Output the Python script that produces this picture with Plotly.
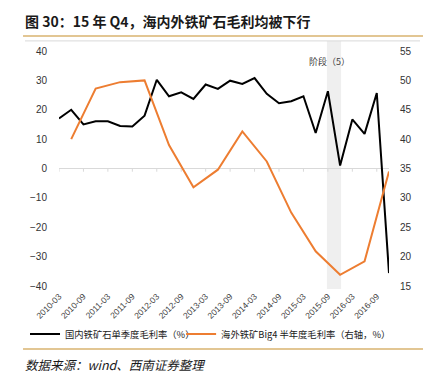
import plotly.graph_objects as go

# ---------------- data ----------------
quarters = ["2010-03","2010-06","2010-09","2010-12","2011-03","2011-06","2011-09","2011-12",
            "2012-03","2012-06","2012-09","2012-12","2013-03","2013-06","2013-09","2013-12",
            "2014-03","2014-06","2014-09","2014-12","2015-03","2015-06","2015-09","2015-12",
            "2016-03","2016-06","2016-09","2016-12"]
domestic_margin = [17.0, 20.0, 15.0, 16.1, 16.1, 14.5, 14.3, 18.0,
                   30.2, 24.6, 25.9, 23.7, 28.6, 27.1, 29.9, 28.8,
                   30.8, 25.4, 22.2, 22.9, 24.6, 12.1, 26.3, 1.0,
                   16.7, 11.8, 25.7, -35.6]
half_years = ["2010-06","2010-12","2011-06","2011-12","2012-06","2012-12","2013-06",
              "2013-12","2014-06","2014-12","2015-06","2015-12","2016-06","2016-12"]
big4_margin = [40.0, 48.6, 49.7, 50.0, 39.0, 31.8, 34.8, 41.3, 36.2, 27.5, 20.9, 16.9, 19.2, 34.5]
tick_labels = ["2010-03","2010-09","2011-03","2011-09","2012-03","2012-09","2013-03",
               "2013-09","2014-03","2014-09","2015-03","2015-09","2016-03","2016-09"]
stage_label = "阶段（5）"
stage_span = ("2015-09", "2015-12")

idx = {q: i for i, q in enumerate(quarters)}
x_dom = [idx[q] for q in quarters]
x_big = [idx[q] for q in half_years]
x_ticks = [idx[q] for q in tick_labels]

CJK = "Noto Sans CJK SC"
NUM = "Liberation Sans"

fig = go.Figure()
fig.add_trace(go.Scatter(x=x_dom, y=domestic_margin, mode="lines",
                         name="国内铁矿石单季度毛利率（%）", legend="legend",
                         line=dict(color="#000000", width=2)))
fig.add_trace(go.Scatter(x=x_big, y=big4_margin, mode="lines", yaxis="y2",
                         name="海外铁矿Big4 半年度毛利率（右轴，%）", legend="legend2",
                         line=dict(color="#ed7d31", width=2)))

shapes = []
# stage band
shapes.append(dict(type="rect", xref="x", yref="paper",
                   x0=idx[stage_span[0]] - 0.08, x1=idx[stage_span[1]] + 0.08,
                   y0=-0.013, y1=1.043, fillcolor="#efefef", line_width=0, layer="below"))
# tick marks on the zero line
for t in x_ticks:
    shapes.append(dict(type="line", xref="x", yref="y", x0=t, x1=t, y0=0, y1=-1.1,
                       line=dict(color="#d9d9d9", width=1), layer="below"))
# top gray frame line
shapes.append(dict(type="line", xref="paper", yref="paper", x0=-0.103, x1=1.094,
                   y0=1.043, y1=1.043, line=dict(color="#d9d9d9", width=1)))
# golden rules
for yy in (1.064, -0.268):
    shapes.append(dict(type="line", xref="paper", yref="paper", x0=-0.109, x1=1.103,
                       y0=yy, y1=yy, line=dict(color="#d9b36f", width=1.5)))

annotations = [
    dict(text="<b>图 30：15 年 Q4，海内外铁矿石毛利均被下行</b>", xref="paper", yref="paper",
         x=-0.109, y=1.128, xanchor="left", yanchor="middle", showarrow=False,
         font=dict(family=CJK, size=14, color="#1a1a1a")),
    dict(text="<i>数据来源：wind、西南证券整理</i>", xref="paper", yref="paper",
         x=-0.109, y=-0.332, xanchor="left", yanchor="middle", showarrow=False,
         font=dict(family=CJK, size=12.5, color="#1a1a1a")),
    dict(text=stage_label, xref="x", yref="paper", x=idx[stage_span[0]] + 0.1, y=0.957,
         xanchor="center", yanchor="middle", showarrow=False,
         font=dict(family=CJK, size=9, color="#404040")),
]

legend_font = dict(family=CJK, size=9.3, color="#1a1a1a")
fig.update_layout(
    width=423, height=371, autosize=False,
    margin=dict(l=51, r=42, t=43, b=93, autoexpand=False),
    paper_bgcolor="white", plot_bgcolor="white",
    showlegend=True,
    legend=dict(orientation="h", x=-0.103, y=-0.204, xanchor="left", yanchor="middle",
                font=legend_font, bgcolor="rgba(0,0,0,0)"),
    legend2=dict(orientation="h", x=0.37, y=-0.204, xanchor="left", yanchor="middle",
                 font=legend_font, bgcolor="rgba(0,0,0,0)"),
    xaxis=dict(range=[0, len(quarters) - 1], tickvals=x_ticks, ticktext=tick_labels,
               tickangle=-45, showgrid=False, zeroline=False, showline=False, ticks="",
               ticklabelstandoff=3, automargin=False,
               tickfont=dict(family=NUM, size=8.5, color="#404040")),
    yaxis=dict(range=[-40, 40], dtick=10, showgrid=False, zeroline=True,
               zerolinecolor="#d9d9d9", zerolinewidth=1, showline=False, ticks="",
               ticklabelstandoff=11, automargin=False,
               tickfont=dict(family=NUM, size=10, color="#333333")),
    yaxis2=dict(range=[15, 55], dtick=5, overlaying="y", side="right", showgrid=False,
                zeroline=False, showline=False, ticks="", ticklabelstandoff=10,
                automargin=False,
                tickfont=dict(family=NUM, size=10, color="#333333")),
    shapes=shapes,
    annotations=annotations,
)

fig.write_html("out.html")
